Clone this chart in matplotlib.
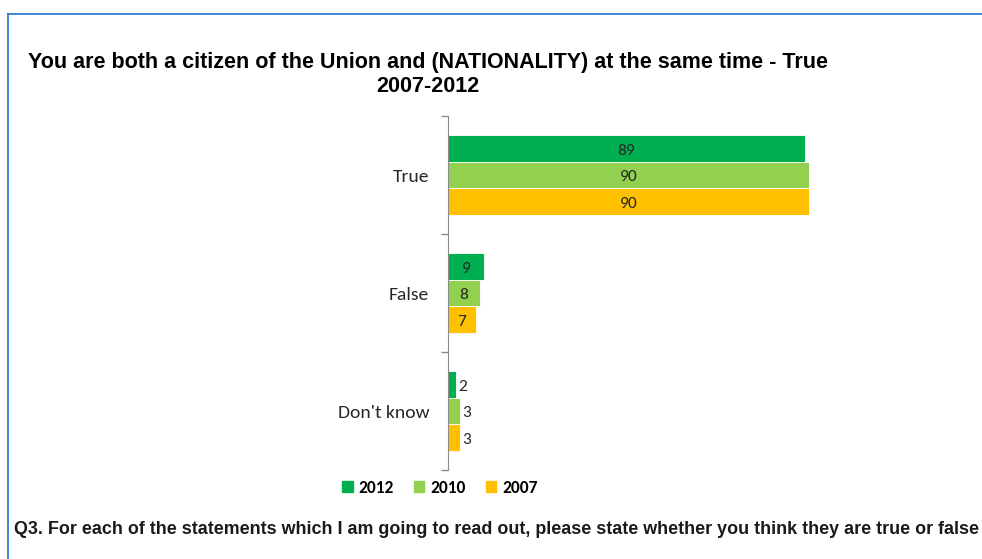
import matplotlib
matplotlib.use("Agg")
import matplotlib.pyplot as plt
from matplotlib.lines import Line2D

categories = ["True", "False", "Don't know"]
years = ["2012", "2010", "2007"]
values_2012 = [89, 9, 2]
values_2010 = [90, 8, 3]
values_2007 = [90, 7, 3]
colors = ["#00B050", "#92D050", "#FFC000"]

LABEL_FONT = ["Carlito", "Lato", "DejaVu Sans"]


def main():
    fig = plt.figure(figsize=(9.82, 5.59), dpi=100)
    ax = fig.add_axes([448 / 982, 1 - 470 / 559, 401 / 982, 354 / 559])

    series = [values_2012, values_2010, values_2007]
    bar_h = 0.225
    offsets = [-bar_h, 0, bar_h]
    for vals, year, col, off in zip(series, years, colors, offsets):
        ypos = [i + off for i in range(len(categories))]
        bars = ax.barh(ypos, vals, height=bar_h, color=col, label=year,
                       edgecolor="white", linewidth=0.6)
        for b, v in zip(bars, vals):
            yc = b.get_y() + b.get_height() / 2 + 0.02
            if v >= 5:
                ax.text(v / 2, yc, str(v), ha="center", va="center",
                        fontsize=12.5, color="#262626", family=LABEL_FONT)
            else:
                ax.text(v + 0.6, yc, str(v), ha="left", va="center",
                        fontsize=12.5, color="#262626", family=LABEL_FONT)

    ax.set_xlim(0, 100)
    ax.set_ylim(len(categories) - 0.5, -0.5)
    ax.set_yticks(range(len(categories)))
    ax.set_yticklabels(categories, fontsize=14, family=LABEL_FONT, color="#262626")
    ax.tick_params(axis="y", which="major", length=0, pad=13.5)
    ax.set_yticks([-0.5, 0.5, 1.5, 2.5], minor=True)
    ax.tick_params(axis="y", which="minor", length=5, color="#8C8C8C", width=1)
    ax.set_xticks([])
    for s in ["top", "right", "bottom"]:
        ax.spines[s].set_visible(False)
    ax.spines["left"].set_color("#8C8C8C")

    handles = [plt.Rectangle((0, 0), 1, 1, color=c) for c in colors]
    fig.legend(handles, years, loc="center", bbox_to_anchor=(440 / 982, 1 - 488 / 559),
               ncol=3, frameon=False, handlelength=0.6, handleheight=0.6,
               handletextpad=0.35, columnspacing=1.15,
               prop={"family": LABEL_FONT, "size": 12.5, "weight": "bold"})

    fig.text(428 / 982, 1 - 62 / 559,
             "You are both a citizen of the Union and (NATIONALITY) at the same time - True",
             ha="center", va="center", fontsize=15.5, fontweight="bold",
             family="Liberation Sans")
    fig.text(428 / 982, 1 - 87 / 559, "2007-2012", ha="center", va="center",
             fontsize=15.5, fontweight="bold", family="Liberation Sans")

    fig.text(14 / 982, 1 - 530 / 559,
             "Q3. For each of the statements which I am going to read out, please state whether you think they are true or false",
             ha="left", va="center", fontsize=12.9, fontweight="bold",
             family="Liberation Sans", color="#1A1A1A")

    # blue frame around the slide area
    frame = "#2F7BD6"
    fig.add_artist(Line2D([8 / 982, 8 / 982], [0, 1 - 14 / 559],
                          transform=fig.transFigure, color=frame, lw=1.3))
    fig.add_artist(Line2D([8 / 982, 1], [1 - 14 / 559, 1 - 14 / 559],
                          transform=fig.transFigure, color=frame, lw=1.3))

    fig.savefig("out.png", dpi=100)


if __name__ == "__main__":
    main()
